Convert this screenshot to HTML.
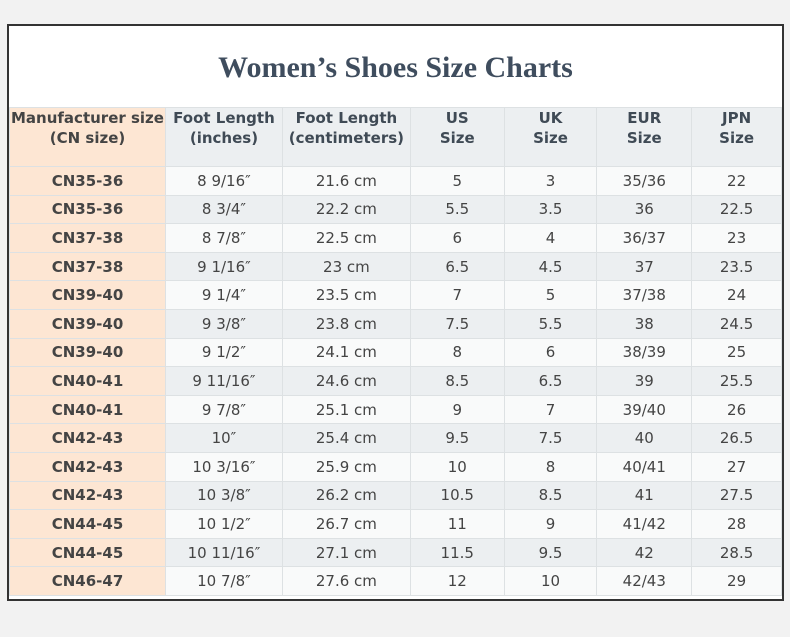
<!DOCTYPE html>
<html><head><style>
body{margin:0;background:#f2f2f2;width:790px;height:637px;position:relative;overflow:hidden}
.box{position:absolute;left:7px;top:24px;width:773px;height:573px;border:2px solid #333;background:#fff;overflow:hidden}
h1{margin:0;position:absolute;top:25px;left:0;width:100%;text-align:center;font:bold 30px "Liberation Serif",serif;color:#3f4d5e}
table{position:absolute;top:81px;left:0;border-collapse:collapse;font-family:"DejaVu Sans",sans-serif;font-size:15px;color:#444;table-layout:fixed}
td,th{border:1px solid #dde1e3;text-align:center;padding:0;white-space:nowrap}
th{height:58px;vertical-align:top;padding-top:0px;font-weight:bold;background:#eceff1;color:#3f4a55;line-height:20px}
td{height:27.6px}
tr:nth-child(even) td{background:#f9fafa}
tr:nth-child(odd) td{background:#eceff1}
th:first-child,td:first-child{background:#fde6d3!important;font-weight:bold;color:#444}
</style></head><body>
<div class="box">
<h1>Women’s Shoes Size Charts</h1>
<table>
<colgroup><col style="width:156px"><col style="width:117px"><col style="width:128px"><col style="width:94px"><col style="width:93px"><col style="width:95px"><col style="width:90px"></colgroup>
<tr><th>Manufacturer size<br>(CN size)</th><th>Foot Length<br>(inches)</th><th>Foot Length<br>(centimeters)</th><th>US<br>Size</th><th>UK<br>Size</th><th>EUR<br>Size</th><th>JPN<br>Size</th></tr>
<tr><td>CN35-36</td><td>8 9/16″</td><td>21.6 cm</td><td>5</td><td>3</td><td>35/36</td><td>22</td></tr>
<tr><td>CN35-36</td><td>8 3/4″</td><td>22.2 cm</td><td>5.5</td><td>3.5</td><td>36</td><td>22.5</td></tr>
<tr><td>CN37-38</td><td>8 7/8″</td><td>22.5 cm</td><td>6</td><td>4</td><td>36/37</td><td>23</td></tr>
<tr><td>CN37-38</td><td>9 1/16″</td><td>23 cm</td><td>6.5</td><td>4.5</td><td>37</td><td>23.5</td></tr>
<tr><td>CN39-40</td><td>9 1/4″</td><td>23.5 cm</td><td>7</td><td>5</td><td>37/38</td><td>24</td></tr>
<tr><td>CN39-40</td><td>9 3/8″</td><td>23.8 cm</td><td>7.5</td><td>5.5</td><td>38</td><td>24.5</td></tr>
<tr><td>CN39-40</td><td>9 1/2″</td><td>24.1 cm</td><td>8</td><td>6</td><td>38/39</td><td>25</td></tr>
<tr><td>CN40-41</td><td>9 11/16″</td><td>24.6 cm</td><td>8.5</td><td>6.5</td><td>39</td><td>25.5</td></tr>
<tr><td>CN40-41</td><td>9 7/8″</td><td>25.1 cm</td><td>9</td><td>7</td><td>39/40</td><td>26</td></tr>
<tr><td>CN42-43</td><td>10″</td><td>25.4 cm</td><td>9.5</td><td>7.5</td><td>40</td><td>26.5</td></tr>
<tr><td>CN42-43</td><td>10 3/16″</td><td>25.9 cm</td><td>10</td><td>8</td><td>40/41</td><td>27</td></tr>
<tr><td>CN42-43</td><td>10 3/8″</td><td>26.2 cm</td><td>10.5</td><td>8.5</td><td>41</td><td>27.5</td></tr>
<tr><td>CN44-45</td><td>10 1/2″</td><td>26.7 cm</td><td>11</td><td>9</td><td>41/42</td><td>28</td></tr>
<tr><td>CN44-45</td><td>10 11/16″</td><td>27.1 cm</td><td>11.5</td><td>9.5</td><td>42</td><td>28.5</td></tr>
<tr><td>CN46-47</td><td>10 7/8″</td><td>27.6 cm</td><td>12</td><td>10</td><td>42/43</td><td>29</td></tr>
</table>
</div>
</body></html>
